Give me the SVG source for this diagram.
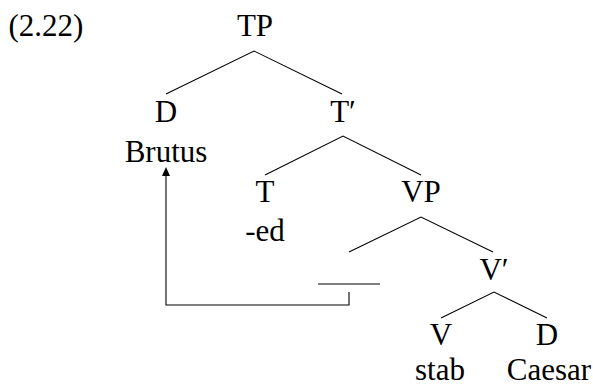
<svg xmlns="http://www.w3.org/2000/svg" width="593" height="386" viewBox="0 0 593 386">
<style>
.t{fill:#000;text-anchor:middle}
.e{stroke:#000;stroke-width:1.1;fill:none}
</style>
<rect width="593" height="386" fill="#fff"/>
<text class="t" x="46" y="36" font-family="Liberation Serif" font-size="31">(2.22)</text>
<g id="connectors">
<path class="e" d="M166,94 L254,51 L342,94"/>
<path class="e" d="M265,175 L343,136 L421,175"/>
<path class="e" d="M349,252 L421,217 L493,252"/>
<path class="e" d="M441,318 L494,292 L547,318"/>
<path class="e" d="M349,292 L349,305 L166,305 L166,175"/>
<path d="M166,167 L170,176 L162,176 Z" fill="#000"/>
</g>
<g id="TP"><text class="t" x="255" y="36" font-family="Liberation Serif" font-size="31">TP</text></g>
<g id="D1"><text class="t" x="166" y="122" font-family="Liberation Serif" font-size="31">D</text><text class="t" x="166" y="162" font-family="Liberation Serif" font-size="31">Brutus</text></g>
<g id="Tbar"><text class="t" x="343" y="122" font-family="Liberation Serif" font-size="31">T′</text></g>
<g id="T"><text class="t" x="265" y="202" font-family="Liberation Serif" font-size="31">T</text><text class="t" x="265" y="241" font-family="Liberation Serif" font-size="31">-ed</text></g>
<g id="VP"><text class="t" x="421" y="202" font-family="Liberation Serif" font-size="31">VP</text></g>
<g id="trace"><line class="e" x1="318" y1="284" x2="380" y2="284"/></g>
<g id="Vbar"><text class="t" x="494" y="280" font-family="Liberation Serif" font-size="31">V′</text></g>
<g id="V"><text class="t" x="441" y="345" font-family="Liberation Serif" font-size="31">V</text><text class="t" x="440" y="380" font-family="Liberation Serif" font-size="31">stab</text></g>
<g id="D2"><text class="t" x="547" y="345" font-family="Liberation Serif" font-size="31">D</text><text class="t" x="549" y="380" font-family="Liberation Serif" font-size="31">Caesar</text></g>
</svg>
